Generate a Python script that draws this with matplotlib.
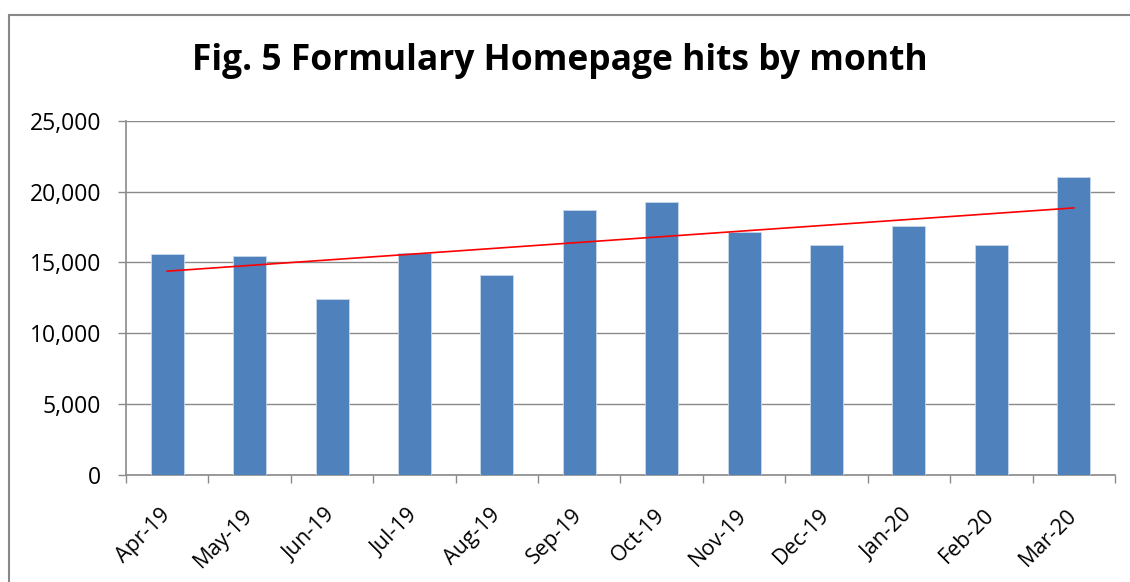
"""
Fig. 5 - Formulary Homepage hits by month (Excel 스타일 막대 그래프 + 선형 추세선)
"""

import numpy as np
import matplotlib.pyplot as plt
import matplotlib.patches as patches
from matplotlib.ticker import FuncFormatter

# 데이터
months = ['Apr-19', 'May-19', 'Jun-19', 'Jul-19', 'Aug-19', 'Sep-19',
          'Oct-19', 'Nov-19', 'Dec-19', 'Jan-20', 'Feb-20', 'Mar-20']
hits = [15600, 15450, 12400, 15650, 14100, 18700,
        19250, 17150, 16250, 17600, 16250, 21050]
y_ticks = [0, 5000, 10000, 15000, 20000, 25000]

plt.rcParams['font.family'] = ['Open Sans', 'DejaVu Sans']

W, H, DPI = 1130, 582, 100
fig = plt.figure(figsize=(W / DPI, H / DPI), dpi=DPI)
fig.patch.set_facecolor('white')

# 차트 영역 테두리
border = patches.Rectangle(
    (9 / W, -0.05), 1.2, 1 - 14.7 / H + 0.05,
    transform=fig.transFigure, fill=False,
    edgecolor='#888888', linewidth=1.5, zorder=0
)
fig.patches.append(border)

ax = fig.add_axes([126 / W, 107.3 / H, 989 / W, 353.7 / H])

x = np.arange(1, len(months) + 1)
ax.bar(x, hits, width=0.4, color='#4F81BD', edgecolor='#c9d7ea',
       linewidth=0.6, zorder=3)

# 선형 추세선
coef = np.polyfit(x, hits, 1)
ax.plot(x[[0, -1]], np.polyval(coef, x[[0, -1]]), color='#ff0000',
        linewidth=1.2, zorder=4)

ax.set_xlim(0.5, len(months) + 0.5)
ax.set_ylim(0, 25000)
ax.set_yticks(y_ticks)
ax.yaxis.set_major_formatter(FuncFormatter(lambda v, p: f'{int(v):,}'))
ax.yaxis.grid(True, color='#8a8a8a', linewidth=1.0, zorder=0)

ax.set_xticks(x)
ax.set_xticklabels(months, rotation=45, ha='right', va='center',
                   rotation_mode='anchor')
ax.set_xticks(np.arange(0.5, len(months) + 1), minor=True)
ax.tick_params(axis='x', which='major', length=0, pad=27, labelsize=15.5)
ax.tick_params(axis='x', which='minor', length=6, width=1.0,
               color='#8a8a8a', direction='out')
ax.tick_params(axis='y', length=6, width=1.0, color='#8a8a8a',
               direction='out', pad=12, labelsize=16.5)

for side in ['top', 'right']:
    ax.spines[side].set_visible(False)
for side in ['left', 'bottom']:
    ax.spines[side].set_color('#8a8a8a')
    ax.spines[side].set_linewidth(1.2)

fig.text(560 / W, 1 - 70 / H, 'Fig. 5 Formulary Homepage hits by month',
         ha='center', va='baseline', fontsize=25.5, fontweight='bold')

plt.savefig('out.png', dpi=DPI, facecolor='white')
plt.close(fig)
